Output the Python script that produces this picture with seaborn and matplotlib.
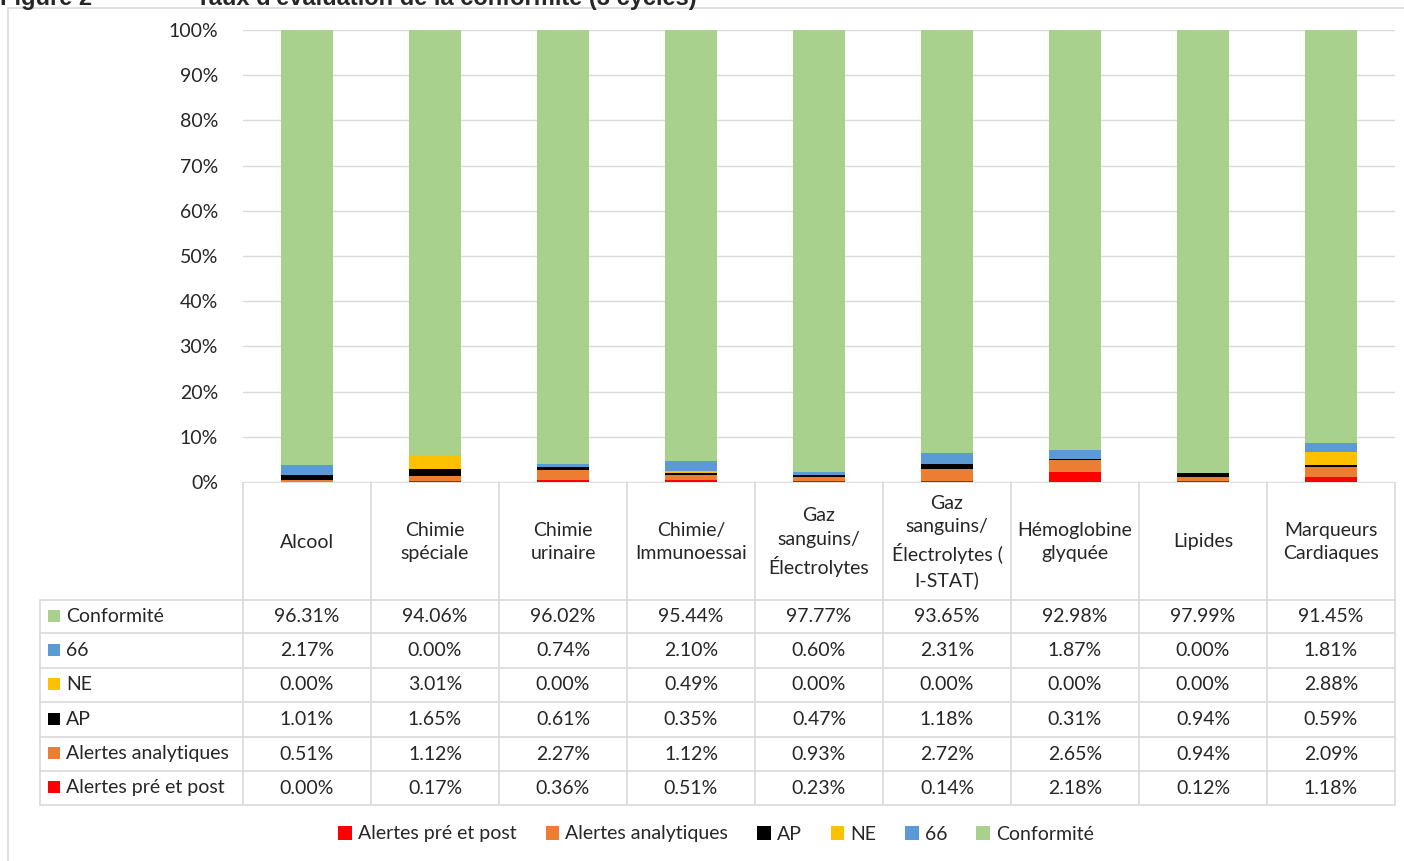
import matplotlib
matplotlib.use('Agg')
import matplotlib.pyplot as plt
from matplotlib.patches import Patch, Rectangle
import numpy as np
import pandas as pd
import seaborn as sns

# ----- données -----
categories = ["Alcool", "Chimie\nspéciale", "Chimie\nurinaire", "Chimie/\nImmunoessai",
              "Gaz\nsanguins/\nÉlectrolytes", "Gaz\nsanguins/\nÉlectrolytes (\nI-STAT)",
              "Hémoglobine\nglyquée", "Lipides", "Marqueurs\nCardiaques"]

alertes_pre_post = [0.00, 0.17, 0.36, 0.51, 0.23, 0.14, 2.18, 0.12, 1.18]
alertes_analytiques = [0.51, 1.12, 2.27, 1.12, 0.93, 2.72, 2.65, 0.94, 2.09]
ap = [1.01, 1.65, 0.61, 0.35, 0.47, 1.18, 0.31, 0.94, 0.59]
ne = [0.00, 3.01, 0.00, 0.49, 0.00, 0.00, 0.00, 0.00, 2.88]
s66 = [2.17, 0.00, 0.74, 2.10, 0.60, 2.31, 1.87, 0.00, 1.81]
conformite = [96.31, 94.06, 96.02, 95.44, 97.77, 93.65, 92.98, 97.99, 91.45]

# ordre d'empilement (bas -> haut)
series = [
    ("Alertes pré et post", alertes_pre_post, "#FF0000"),
    ("Alertes analytiques", alertes_analytiques, "#ED7D31"),
    ("AP", ap, "#000000"),
    ("NE", ne, "#FFC000"),
    ("66", s66, "#5B9BD5"),
    ("Conformité", conformite, "#A9D18E"),
]
# ordre des lignes du tableau (haut -> bas)
table_rows = list(reversed(series))

sns.set_theme(style="white")
plt.rcParams['font.family'] = ['Lato', 'DejaVu Sans']
GRID = "#D9D9D9"
FS = 14

W, H = 1404, 861
fig = plt.figure(figsize=(W / 100, H / 100), dpi=100)


def fbox(x0, y0, x1, y1):
    return [x0 / W, 1 - y1 / H, (x1 - x0) / W, (y1 - y0) / H]


# cadre du graphique
frame = fig.add_axes([0, 0, 1, 1], zorder=-5)
frame.set_xlim(0, W)
frame.set_ylim(H, 0)
frame.axis('off')
frame.plot([8, 8, W + 5], [H + 5, 8, 8], color=GRID, lw=1.2)

# titre (coupé en haut, comme dans l'original)
fig.text(0 / W, 1 - 5 / H, "Figure 2", fontsize=17, fontweight='bold',
         family='Liberation Sans', va='baseline', ha='left')
fig.text(196 / W, 1 - 5 / H, "Taux d'évaluation de la conformité (3 cycles)", fontsize=17,
         fontweight='bold', family='Liberation Sans', va='baseline', ha='left')

# ----- barres empilées -----
ax = fig.add_axes(fbox(243, 30, 1395, 482))
x_labels = [c.replace("\n", " ") for c in categories]
bottom = np.zeros(len(categories))
for name, vals, col in series:
    df = pd.DataFrame({"cat": x_labels, "val": np.array(vals) / 100})
    sns.barplot(data=df, x="cat", y="val", color=col, bottom=bottom, width=0.41,
                saturation=1, ax=ax, zorder=3, linewidth=0)
    bottom = bottom + np.array(vals) / 100

ax.set_xlim(-0.5, len(categories) - 0.5)
ax.set_ylim(0, 1)
ax.set_yticks(np.arange(0, 1.01, 0.1))
ax.set_yticklabels([f"{int(round(v * 100))}%" for v in np.arange(0, 1.01, 0.1)], fontsize=FS)
ax.tick_params(axis='y', length=0, pad=18)
ax.set_xticks([])
ax.set_xlabel("")
ax.set_ylabel("")
ax.grid(axis='y', color=GRID, lw=1, zorder=0)
for sp in ax.spines.values():
    sp.set_visible(False)

# ----- tableau de données -----
tab = fig.add_axes(fbox(0, 482, W, 861))
tab.set_xlim(0, W)
tab.set_ylim(861, 482)
tab.axis('off')

col_x = np.linspace(243, 1395, len(categories) + 1)
row_y = [482, 600, 633, 668, 702, 737, 771, 805]
lk = dict(color=GRID, lw=1.2)

# lignes horizontales
tab.plot([243, 1395], [482, 482], **lk)
for y in row_y[1:]:
    tab.plot([40, 1395], [y, y], **lk)
# lignes verticales
tab.plot([40, 40], [600, 805], **lk)
for x in col_x:
    tab.plot([x, x], [482, 805], **lk)

# en-têtes de catégories
for i, c in enumerate(categories):
    tab.text((col_x[i] + col_x[i + 1]) / 2, (482 + 600) / 2 + 1, c, ha='center', va='center',
             fontsize=FS, linespacing=1.45)

# lignes de valeurs
for r, (name, vals, col) in enumerate(table_rows):
    yc = (row_y[r + 1] + row_y[r + 2]) / 2
    tab.add_patch(Rectangle((48, yc - 7), 12, 12, color=col, lw=0))
    tab.text(66, yc, name, ha='left', va='center', fontsize=FS)
    for i, v in enumerate(vals):
        tab.text((col_x[i] + col_x[i + 1]) / 2, yc, f"{v:.2f}%", ha='center', va='center',
                 fontsize=FS)

# légende
handles = [Patch(facecolor=col, edgecolor='none', label=name) for name, _, col in series]
fig.legend(handles=handles, loc='center', bbox_to_anchor=(716 / W, 1 - 834 / H), ncol=6,
           frameon=False, fontsize=FS, handlelength=0.7, handleheight=0.7,
           handletextpad=0.3, columnspacing=1.5)

fig.savefig("out.png", dpi=100)
